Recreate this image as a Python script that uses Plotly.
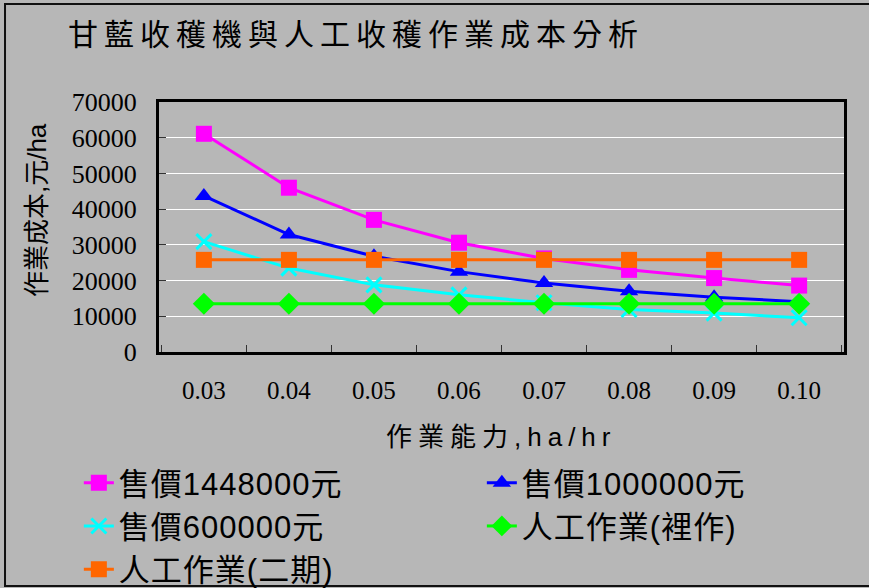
import plotly.graph_objects as go

# Operating capacity (ha/hr) and cost per hectare (元/ha) for each scenario
capacity = ["0.03", "0.04", "0.05", "0.06", "0.07", "0.08", "0.09", "0.10"]
price_1448000 = [61100, 46000, 37000, 30600, 26200, 23000, 20700, 18600]
price_1000000 = [43700, 32900, 26800, 22500, 19300, 17000, 15300, 14100]
price_600000 = [30900, 23500, 18800, 16000, 13800, 11900, 10900, 9600]
manual_naked = [13500, 13500, 13500, 13500, 13500, 13500, 13500, 13500]
manual_second = [25800, 25800, 25800, 25800, 25800, 25800, 25800, 25800]

series_names = ["售價1448000元", "售價1000000元", "售價600000元",
                "人工作業(裡作)", "人工作業(二期)"]
y_ticks = [0, 10000, 20000, 30000, 40000, 50000, 60000, 70000]

SANS = "Liberation Sans, Noto Sans CJK TC, sans-serif"
SERIF = "Liberation Serif, Times New Roman, serif"
BG = "#b7b7b7"

styles = [
    dict(color="#ff00ff", symbol="square", size=16),
    dict(color="#0000ff", symbol="triangle-up", size=16),
    dict(color="#00ffff", symbol="x-thin", size=15),
    dict(color="#00ff00", symbol="diamond", size=17),
    dict(color="#ff6600", symbol="square", size=16),
]
values = [price_1448000, price_1000000, price_600000, manual_naked, manual_second]

fig = go.Figure()
for name, vals, st in zip(series_names, values, styles):
    marker = dict(symbol=st["symbol"], size=st["size"], color=st["color"])
    if st["symbol"] == "x-thin":
        marker["line"] = dict(color=st["color"], width=3)
    fig.add_trace(go.Scatter(
        x=capacity, y=vals, mode="lines+markers",
        name='<span style="letter-spacing:1px">' + name + "</span>",
        line=dict(color=st["color"], width=3), marker=marker,
    ))

# Outer chart frame (open on the right side)
fig.add_shape(type="rect", xref="paper", yref="paper",
              x0=-0.2248, x1=1.06, y0=-0.936, y1=1.392,
              line=dict(color="#111111", width=2), layer="below")

fig.add_annotation(
    text="作業成本,元/ha", xref="paper", yref="paper",
    x=-0.178, y=0.568, xanchor="center", yanchor="middle",
    textangle=-90, showarrow=False,
    font=dict(family=SANS, size=26, color="black"),
)
fig.add_annotation(
    text='<span style="letter-spacing:6px">作業能力,ha/hr</span>',
    xref="paper", yref="paper", x=0.5, y=-0.34,
    xanchor="center", yanchor="middle", showarrow=False,
    font=dict(family=SANS, size=26, color="black"),
)

fig.update_layout(
    width=869, height=588,
    margin=dict(l=159, r=25, t=102, b=236, autoexpand=False),
    paper_bgcolor=BG, plot_bgcolor=BG,
    title=dict(
        text='<span style="letter-spacing:6px">甘藍收穫機與人工收穫作業成本分析</span>',
        xref="container", yref="container", x=68 / 869, xanchor="left",
        y=1 - 34 / 588, yanchor="middle",
        font=dict(family=SANS, size=30, color="black"),
    ),
    showlegend=True,
    legend=dict(
        orientation="h", x=-0.117, xanchor="left", y=-0.416, yanchor="top",
        entrywidth=358, entrywidthmode="pixels",
        font=dict(family=SANS, size=31, color="black"),
        bgcolor="rgba(0,0,0,0)", itemclick=False,
    ),
    xaxis=dict(
        type="category", categoryorder="array", categoryarray=capacity,
        tickson="boundaries", ticks="inside", ticklen=7, tickwidth=1,
        tickcolor="#333333", showgrid=False, zeroline=False,
        showline=True, linecolor="black", linewidth=3, mirror=True,
        tickfont=dict(family=SERIF, size=25, color="black"),
        ticklabelstandoff=14,
    ),
    yaxis=dict(
        range=[0, 70000], tickvals=y_ticks, ticks="inside", ticklen=7,
        tickcolor="#333333", showgrid=True, gridcolor="white", gridwidth=1,
        zeroline=False, showline=True, linecolor="black", linewidth=3,
        mirror=True, tickformat="d",
        tickfont=dict(family=SERIF, size=26, color="black"),
        ticklabelstandoff=14,
    ),
)

fig.write_html("out.html")
